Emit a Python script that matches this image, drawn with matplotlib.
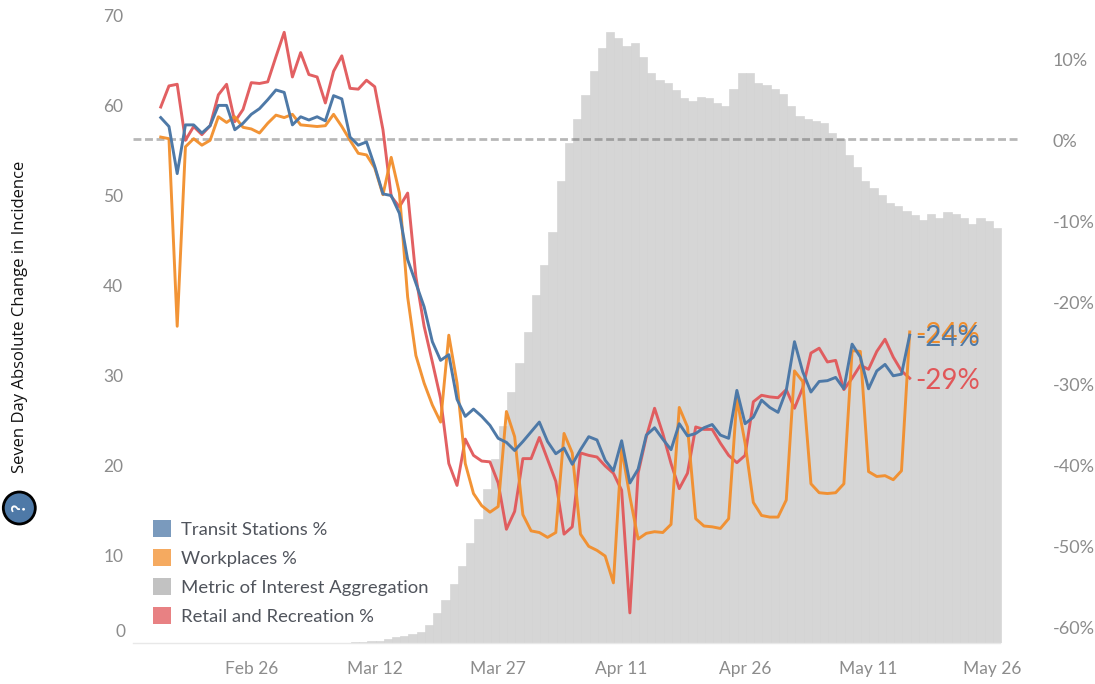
import numpy as np
import pandas as pd
import matplotlib
matplotlib.use("Agg")
import matplotlib.pyplot as plt
import matplotlib.patches as mpatches
import matplotlib.dates as mdates
from matplotlib.transforms import ScaledTranslation

plt.rcParams['font.family'] = ['Lato', 'DejaVu Sans']

W, H = 1095, 684

# --- series ---
dias_linea = pd.date_range('2020-02-15', periods=92)
dias_barra = pd.date_range('2020-03-09', periods=79)

transit = [2.7, 1.6, -4.2, 1.8, 1.8, 0.8, 1.7, 4.2, 4.2, 1.2, 2.0, 3.1, 3.8, 4.9, 6.1, 5.8,
           1.8, 2.8, 2.4, 2.8, 2.3, 5.4, 5.0, 0.3, -0.7, -0.3, -3.3, -6.7, -6.9, -9.1, -14.8, -17.7,
           -20.6, -24.9, -27.2, -26.5, -32.0, -34.1, -33.2, -34.1, -35.2, -36.8, -37.3, -38.3, -37.2, -36.0,
           -34.8, -37.2, -38.7, -38.0, -40.0, -38.2, -36.6, -37.0, -39.5, -40.8, -37.1, -42.3, -40.6, -36.4,
           -35.5, -36.9, -38.2, -35.0, -36.5, -36.2, -35.5, -35.1, -36.4, -36.8, -30.9, -35.0, -34.2, -32.1,
           -33.0, -33.6, -30.9, -24.9, -28.6, -31.1, -29.8, -29.7, -29.3, -30.7, -25.2, -26.8, -30.7, -28.5,
           -27.7, -29.1, -28.9, -24.1]

workplaces = [0.3, 0.1, -23.0, -0.9, 0.1, -0.7, -0.1, 2.8, 2.1, 2.8, 1.5, 1.3, 0.8, 2.0, 3.0, 2.7,
              3.1, 1.8, 1.7, 1.6, 1.7, 3.1, 1.6, -0.1, -1.7, -1.9, -3.5, -6.8, -2.2, -6.6, -19.4, -26.6,
              -30.0, -32.7, -34.8, -24.1, -30.0, -39.9, -43.6, -45.1, -45.9, -45.2, -33.5, -36.6, -46.2, -48.2,
              -48.4, -49.0, -48.4, -36.2, -38.6, -48.6, -50.1, -50.6, -51.3, -54.6, -38.0, -44.0, -49.2, -48.5,
              -48.3, -48.4, -47.4, -33.0, -35.4, -46.7, -47.6, -47.7, -47.9, -46.7, -31.9, -37.4, -44.7, -46.3,
              -46.5, -46.5, -44.4, -28.5, -29.8, -42.4, -43.5, -43.6, -43.5, -42.4, -26.0, -26.1, -40.9, -41.5,
              -41.4, -41.9, -40.8, -23.7]

retail = [4.0, 6.6, 6.8, -0.1, 1.6, 0.6, 1.7, 5.5, 6.8, 2.2, 3.7, 7.0, 6.9, 7.1, 10.2, 13.2,
          7.7, 10.7, 8.0, 7.7, 4.5, 8.4, 10.3, 6.3, 6.2, 7.3, 6.5, 1.2, -7.0, -8.3, -6.6, -16.9,
          -23.0, -27.4, -31.9, -39.9, -42.6, -36.9, -38.9, -39.6, -39.7, -42.3, -48.0, -45.8, -39.3, -39.3,
          -36.7, -39.4, -42.1, -48.6, -47.7, -38.6, -38.9, -39.1, -40.2, -41.1, -43.2, -58.3, -41.1, -36.6,
          -33.1, -36.2, -39.9, -43.0, -41.1, -35.4, -35.7, -35.7, -37.4, -38.9, -39.8, -38.9, -32.3, -31.5,
          -31.7, -31.8, -30.8, -33.1, -30.6, -26.3, -25.7, -27.4, -27.2, -30.8, -29.4, -27.8, -28.3, -26.1,
          -24.6, -26.8, -28.5, -29.4]

metric = [0.1, 0.1, 0.3, 0.3, 0.45, 0.7, 0.8, 1.0, 1.3, 2.0, 3.4, 4.8, 6.6, 8.6, 11.2, 13.8,
          17.1, 20.5, 24.1, 27.9, 31.1, 34.6, 38.7, 42.0, 45.7, 51.4, 55.6, 58.2, 60.9, 63.6, 66.1, 67.9,
          67.2, 66.4, 66.7, 65.1, 63.4, 62.6, 62.3, 61.5, 60.6, 60.2, 60.7, 60.6, 60.0, 59.7, 61.6, 63.4,
          63.4, 62.3, 62.0, 61.6, 61.0, 59.7, 58.6, 58.3, 58.0, 57.8, 56.7, 56.0, 54.2, 52.9, 51.4, 50.6,
          49.8, 48.9, 48.6, 48.0, 47.6, 47.0, 47.7, 47.3, 47.9, 47.7, 47.3, 46.6, 47.3, 46.9, 46.1]

ticks_fecha = ['2020-02-26', '2020-03-12', '2020-03-27', '2020-04-11', '2020-04-26', '2020-05-11', '2020-05-26']
ticks_izq = [10, 20, 30, 40, 50, 60, 70]
ticks_der = [10, 0, -10, -20, -30, -40, -50, -60]

AZUL = '#4e79a7'
NARANJA = '#f28e2b'
ROJO = '#e15759'
GRIS = '#8c8c8c'

fig = plt.figure(figsize=(W / 100, H / 100), dpi=100, facecolor='white')
# ejes: x 133..1020, y 6..643 en pixeles
ax = fig.add_axes([133 / W, 1 - 643.3 / H, 887 / W, (643.3 - 6) / H])
ax2 = ax.twinx()

# las barras van un poco desplazadas respecto a las lineas
ax.bar(dias_barra + pd.Timedelta(hours=2.4), metric, width=1.0, align='edge', color='#d6d6d6',
       edgecolor='#d1d1d1', linewidth=0.4, zorder=1)
ax.set_ylim(0, 637.3 / 9.0)
ax.set_xlim(pd.Timestamp('2020-02-15') - pd.Timedelta(days=3.37), pd.Timestamp('2020-02-15') + pd.Timedelta(days=104.4))

ax2.axhline(0.1, color='#555555', alpha=0.42, lw=2.0, dashes=(2.85, 1.3), zorder=1)
ax2.plot(dias_linea, retail, color=ROJO, lw=2.1, alpha=0.95, zorder=3, solid_joinstyle='round')
ax2.plot(dias_linea, workplaces, color=NARANJA, lw=2.1, alpha=0.95, zorder=4, solid_joinstyle='round')
ax2.plot(dias_linea, transit, color=AZUL, lw=2.1, alpha=1, zorder=5, solid_joinstyle='round')
ax2.set_ylim((139.5 - 643.3) / 8.12, (139.5 - 6) / 8.12)

ax.set_xticks(pd.to_datetime(ticks_fecha))
ax.xaxis.set_major_formatter(mdates.DateFormatter('%b %d'))
ax.tick_params(axis='x', length=0, labelsize=12.5, labelcolor=GRIS, pad=13)
ax.set_yticks(ticks_izq)
ax.tick_params(axis='y', length=0, labelsize=12.5, labelcolor=GRIS, pad=7)
ax2.set_yticks(ticks_der)
ax2.set_yticklabels([f'{t}%' for t in ticks_der])
ax2.tick_params(axis='y', length=0, labelsize=13, labelcolor=GRIS, pad=23.5)
ax.text(-8 / 887, 11 / 637.3, '0', transform=ax.transAxes, ha='right', va='center', fontsize=12.5, color=GRIS)

# etiquetas de y un par de pixeles mas abajo, como en el original
for lab in ax.get_yticklabels():
    lab.set_transform(lab.get_transform() + ScaledTranslation(0, -2 / 100, fig.dpi_scale_trans))
for lab in ax2.get_yticklabels():
    lab.set_transform(lab.get_transform() + ScaledTranslation(0, -1 / 100, fig.dpi_scale_trans))

for a in (ax, ax2):
    for lado in ('top', 'left', 'right', 'bottom'):
        a.spines[lado].set_visible(False)
ax.spines['bottom'].set_visible(True)
ax.spines['bottom'].set_color('#e8e8e8')
ax.spines['bottom'].set_linewidth(1)
ax.spines['bottom'].set_bounds(ax.get_xlim()[0], mdates.date2num(pd.Timestamp('2020-05-27')))

# etiquetas finales
ax2.annotate('-24%', (dias_linea[-1], workplaces[-1]), xytext=(6, -3), textcoords='offset pixels',
             color=NARANJA, fontsize=20, va='center', ha='left', zorder=6)
ax2.annotate('-24%', (dias_linea[-1], transit[-1]), xytext=(6, -3), textcoords='offset pixels',
             color=AZUL, fontsize=20, va='center', ha='left', zorder=7)
ax2.annotate('-29%', (dias_linea[-1], retail[-1]), xytext=(6, -3), textcoords='offset pixels',
             color=ROJO, fontsize=20, va='center', ha='left', zorder=7)

# leyenda
handles = [
    mpatches.Patch(facecolor=AZUL, alpha=0.75, label='Transit Stations %'),
    mpatches.Patch(facecolor=NARANJA, alpha=0.75, label='Workplaces %'),
    mpatches.Patch(facecolor='#b8b8b8', alpha=0.85, label='Metric of Interest Aggregation'),
    mpatches.Patch(facecolor=ROJO, alpha=0.75, label='Retail and Recreation %'),
]
leg = ax2.legend(handles=handles, loc='lower left', bbox_to_anchor=(153 / W, 1 - 625 / H),
                 bbox_transform=fig.transFigure, frameon=False, fontsize=13.3, borderpad=0, borderaxespad=0,
                 handlelength=1.0, handleheight=1.0, handletextpad=0.5, labelspacing=0.62,
                 labelcolor='#50545c')
leg.set_zorder(8)

# titulo del eje e icono
fig.text(20 / W, 1 - 317 / H, 'Seven Day Absolute Change in Incidence', rotation=90, ha='center', va='center',
         fontsize=12, color='#111111', family='Open Sans')
fig.patches.append(mpatches.Ellipse((19.3 / W, 1 - 508 / H), 32 / W, 32 / H, transform=fig.transFigure,
                                    facecolor=AZUL, edgecolor='black', linewidth=2))
fig.text(19.3 / W, 1 - 508 / H, '?', rotation=90, ha='center', va='center', fontsize=13, color='white',
         fontweight='bold')

fig.savefig('out.png', dpi=100, facecolor='white')
